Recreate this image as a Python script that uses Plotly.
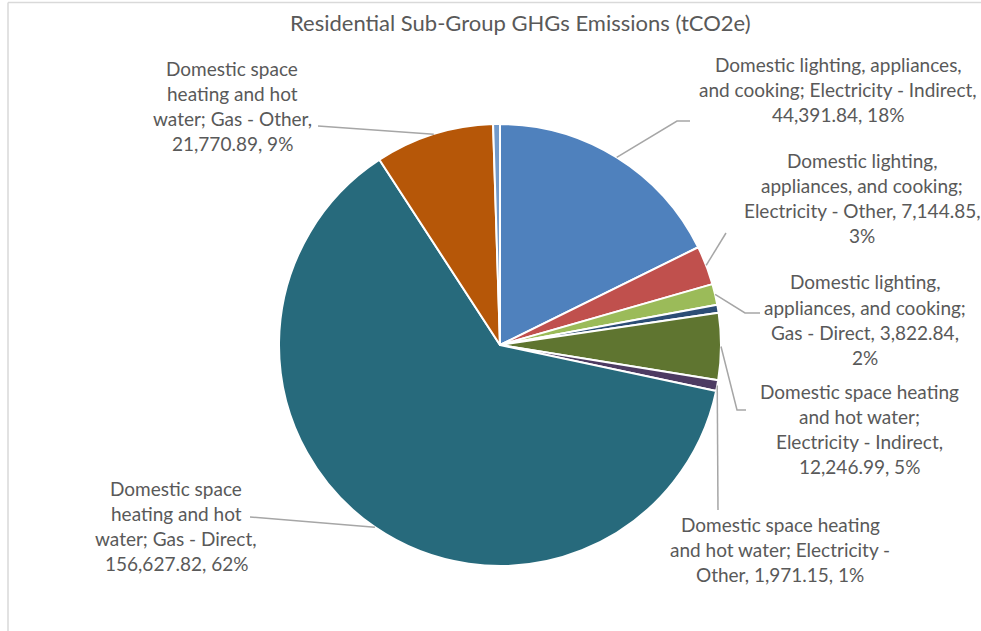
import math
import plotly.graph_objects as go

# Residential sub-group emissions (tCO2e), clockwise from 12 o'clock
categories = [
    "Domestic lighting, appliances, and cooking; Electricity - Indirect",
    "Domestic lighting, appliances, and cooking; Electricity - Other",
    "Domestic lighting, appliances, and cooking; Gas - Direct",
    "Domestic lighting, appliances, and cooking; Gas - Other",
    "Domestic space heating and hot water; Electricity - Indirect",
    "Domestic space heating and hot water; Electricity - Other",
    "Domestic space heating and hot water; Gas - Direct",
    "Domestic space heating and hot water; Gas - Other",
    "Other residential",
]
emissions = [44391.84, 7144.85, 3822.84, 1450.00, 12246.99, 1971.15, 156627.82, 21770.89, 1250.00]
colors = ["#4F81BD", "#C0504D", "#9BBB59", "#2C4D75", "#5F7530", "#4D3B62", "#276A7C", "#B65708", "#729ACA"]

# Words per label line for each labelled slice (None = no label)
label_breaks = [[3, 5, 2], [2, 3, 4, 1], [2, 3, 4, 1], None, [3, 3, 3, 2], [3, 5, 3], [2, 3, 4, 2], [2, 3, 4, 2], None]

W, H = 981, 631
PIE_CX, PIE_CY, PIE_R = 500, 345, 221
TEXT_COLOR = "#595959"
LEADER_COLOR = "#A6A6A6"
FONT = "Lato"
LABEL_SIZE = 19
TITLE_SIZE = 22
LINE_GAP = 25.3

# label block layout: centre x, first-line y (pixels)
label_pos = [(838, 64), (862, 160), (865, 282), None, (859, 391), (780, 524), (176, 488), (232, 68), None]
# leader line end points (pixels) beyond the slice edge
leader_ends = [
    [(677, 121), (690, 121)],
    [(726, 233)],
    [(745, 313), (760, 313)],
    None,
    [(737, 410), (746, 410)],
    [(718, 510)],
    [(250, 517)],
    [(318, 126)],
    None,
]


def px(x):
    return x / W


def py(y):
    return 1 - y / H


fig = go.Figure(
    go.Pie(
        labels=categories,
        values=emissions,
        sort=False,
        direction="clockwise",
        rotation=0,
        textinfo="none",
        hovertemplate="%{label}<br>%{value:,.2f}<br>%{percent:.0%}<extra></extra>",
        marker=dict(colors=colors, line=dict(color="white", width=2)),
        domain=dict(
            x=[px(PIE_CX - PIE_R), px(PIE_CX + PIE_R)],
            y=[py(PIE_CY + PIE_R), py(PIE_CY - PIE_R)],
        ),
        showlegend=False,
    )
)

total = sum(emissions)
annotations = []
shapes = []

cum = 0.0
for name, val, breaks, pos, ends in zip(categories, emissions, label_breaks, label_pos, leader_ends):
    mid = (cum + val / 2) / total
    cum += val
    if breaks is None:
        continue
    words = f"{name}, {val:,.2f}, {round(val / total * 100):d}%".split(" ")
    lines, i = [], 0
    for n in breaks:
        lines.append(" ".join(words[i:i + n]))
        i += n
    cx, y0 = pos
    for k, line in enumerate(lines):
        annotations.append(dict(
            x=px(cx), y=py(y0 + k * LINE_GAP), xref="paper", yref="paper",
            text=line, showarrow=False, xanchor="center", yanchor="middle",
            font=dict(family=FONT, size=LABEL_SIZE, color=TEXT_COLOR),
        ))
    # leader line from the slice's mid-arc point
    ang = 2 * math.pi * mid
    sx = PIE_CX + PIE_R * math.sin(ang)
    sy = PIE_CY - PIE_R * math.cos(ang)
    pts = [(sx, sy)] + ends
    path = "M " + " L ".join(f"{px(x):.5f},{py(y):.5f}" for x, y in pts)
    shapes.append(dict(type="path", path=path, xref="paper", yref="paper",
                       line=dict(color=LEADER_COLOR, width=1.5)))

# chart frame edges
shapes.append(dict(type="line", xref="paper", yref="paper", x0=px(8), x1=1.0, y0=py(2.5), y1=py(2.5),
                   line=dict(color="#D9D9D9", width=1.5)))
shapes.append(dict(type="line", xref="paper", yref="paper", x0=px(8), x1=px(8), y0=py(2.5), y1=0,
                   line=dict(color="#D9D9D9", width=1.5)))

annotations.append(dict(
    x=px(520), y=py(23), xref="paper", yref="paper",
    text="Residential Sub-Group GHGs Emissions (tCO2e)", showarrow=False,
    xanchor="center", yanchor="middle",
    font=dict(family=FONT, size=TITLE_SIZE, color=TEXT_COLOR),
))

fig.update_layout(
    width=W, height=H,
    margin=dict(l=0, r=0, t=0, b=0),
    paper_bgcolor="white", plot_bgcolor="white",
    annotations=annotations, shapes=shapes,
)

fig.write_html("out.html")
